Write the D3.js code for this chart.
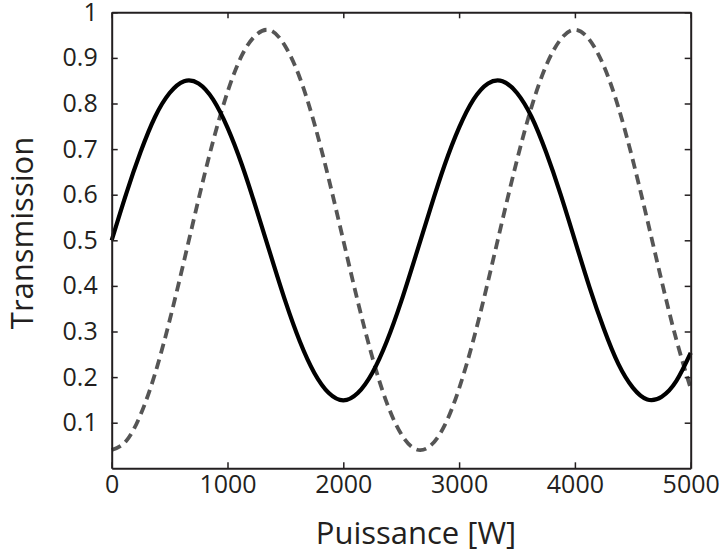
<!DOCTYPE html>
<html>
<head>
<meta charset="utf-8">
<script src="https://cdn.jsdelivr.net/npm/d3@7"></script>
<style>
  body { margin: 0; background: #fff; }
  svg text { font-family: "Open Sans", sans-serif; fill: #231f20; }
</style>
</head>
<body>
<svg id="chart" width="719" height="552"></svg>
<script>
// puissance [W], sampled every 125 W
const puissance = d3.range(41).map((i) => i * 125);

// solid curve
const transSolid = [
  0.500, 0.602, 0.694, 0.771, 0.823, 0.849, 0.844, 0.809, 0.747, 0.665,
  0.568, 0.466, 0.366, 0.278, 0.209, 0.165, 0.149, 0.165, 0.209, 0.278,
  0.366, 0.466, 0.568, 0.665, 0.747, 0.809, 0.844, 0.849, 0.823, 0.771,
  0.694, 0.602, 0.500, 0.398, 0.306, 0.229, 0.177, 0.151, 0.157, 0.191,
  0.253
];

// dashed curve
const transDashed = [
  0.040, 0.060, 0.118, 0.208, 0.324, 0.455, 0.590, 0.717, 0.825, 0.906,
  0.951, 0.960, 0.925, 0.856, 0.756, 0.634, 0.500, 0.366, 0.244, 0.144,
  0.075, 0.042, 0.049, 0.094, 0.175, 0.283, 0.410, 0.545, 0.676, 0.792,
  0.882, 0.940, 0.962, 0.940, 0.882, 0.792, 0.676, 0.545, 0.410, 0.283,
  0.175
];

const xTicks = [0, 1000, 2000, 3000, 4000, 5000];
const yTicks = [0.1, 0.2, 0.3, 0.4, 0.5, 0.6, 0.7, 0.8, 0.9, 1];

var svg = d3.select("#chart"),
  marginLeft = 111.7,
  marginTop = 12.3,
  width = 579,
  height = 456;

var x = d3.scaleLinear().domain([0, 5000]).range([0, width]),
  y = d3.scaleLinear().domain([0, 1]).range([height, 0]);

var g = svg.append("g").attr("transform", "translate(" + marginLeft + "," + marginTop + ")");

// curves
var line = d3.line().curve(d3.curveNatural);

g.append("path")
  .datum(puissance.map((p, i) => [x(p), y(transDashed[i])]))
  .attr("d", line)
  .attr("fill", "none")
  .attr("stroke", "#555555")
  .attr("stroke-width", 3.8)
  .attr("stroke-dasharray", "10,6");

g.append("path")
  .datum(puissance.map((p, i) => [x(p), y(transSolid[i])]))
  .attr("d", line)
  .attr("fill", "none")
  .attr("stroke", "#000")
  .attr("stroke-width", 4.2);

// box with inward ticks on all sides
var tick = 6;
g.append("g")
  .attr("transform", "translate(0," + height + ")")
  .call(d3.axisBottom(x).tickValues(xTicks).tickFormat((d) => String(d))
    .tickSizeInner(-tick).tickSizeOuter(0).tickPadding(tick + 1))
  .call((a) => a.selectAll("text").attr("font-size", 25).attr("dy", "0.71em"));

g.append("g")
  .call(d3.axisTop(x).tickValues(xTicks).tickSizeInner(-tick).tickSizeOuter(0).tickFormat(""));

g.append("g")
  .call(d3.axisLeft(y).tickValues(yTicks).tickFormat((d) => String(d))
    .tickSizeInner(-tick).tickSizeOuter(0).tickPadding(tick + 8))
  .call((a) => a.selectAll("text").attr("font-size", 25));

g.append("g")
  .attr("transform", "translate(" + width + ",0)")
  .call(d3.axisRight(y).tickValues(yTicks).tickSizeInner(-tick).tickSizeOuter(0).tickFormat(""));

g.selectAll(".domain").attr("stroke", "#231f20").attr("stroke-width", 2);
g.selectAll(".tick line").attr("stroke", "#231f20").attr("stroke-width", 1.5);
g.selectAll(".tick text").attr("fill", "#231f20").attr("font-family", "'Open Sans', sans-serif");

// titles
svg.append("text")
  .attr("x", 416)
  .attr("y", 544)
  .attr("text-anchor", "middle")
  .attr("font-size", 31)
  .text("Puissance [W]");

svg.append("text")
  .attr("transform", "translate(33,233) rotate(-90)")
  .attr("text-anchor", "middle")
  .attr("font-size", 31)
  .text("Transmission");
</script>
</body>
</html>
